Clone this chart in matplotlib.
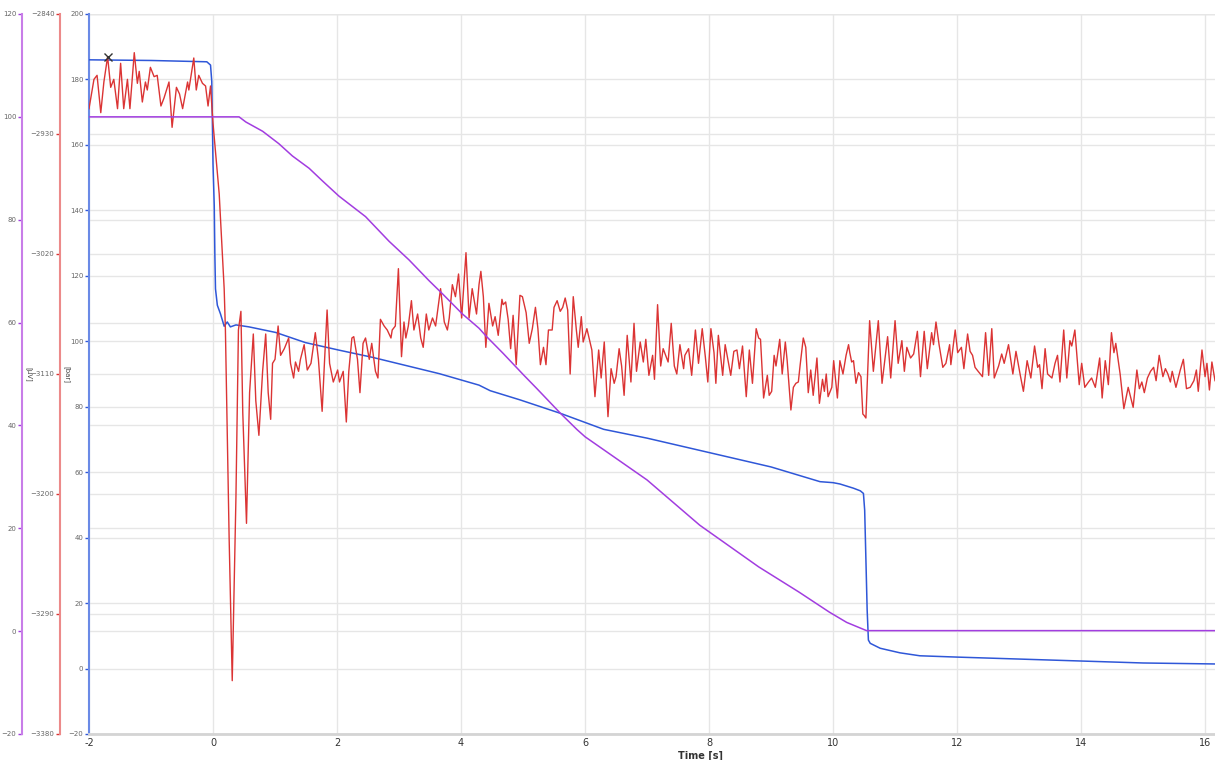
import numpy as np
import matplotlib
matplotlib.use("Agg")
from matplotlib import pyplot as plt

# blue channel (inner axis, 0..200)
blue_t = [-2.00, -1.00, -0.10, -0.04, -0.02, 0.00, 0.02, 0.03, 0.04, 0.07, 0.12, 0.18, 0.23, 0.28,
          0.37, 0.58, 1.01, 1.49, 2.03, 2.57, 3.11, 3.65, 4.29, 4.47, 4.95, 5.60, 6.30, 7.00,
          8.00, 9.00, 9.79, 10.00, 10.11, 10.33, 10.44, 10.49, 10.51, 10.53, 10.55, 10.57,
          10.60, 10.76, 11.08, 11.40, 12.00, 13.00, 14.00, 15.00, 16.16]
blue_v = [186.0, 185.8, 185.4, 184.4, 179.4, 154.0, 141.4, 126.2, 116.0, 111.0, 108.4, 104.6, 105.9, 104.4,
          105.0, 104.4, 102.7, 99.6, 97.3, 95.1, 92.6, 90.1, 86.6, 84.9, 82.1, 78.0, 73.1, 70.4,
          66.0, 61.6, 57.1, 56.8, 56.4, 55.1, 54.3, 53.5, 48.4, 33.2, 17.9, 8.7,
          7.7, 6.2, 4.8, 3.9, 3.5, 2.9, 2.3, 1.7, 1.4]

# purple channel (outer axis, -20..120)
purple_t = [-2.00, 0.42, 0.53, 0.80, 1.06, 1.28, 1.55, 1.76, 2.03, 2.46, 2.84, 3.16, 3.48, 3.70, 4.02,
            4.29, 4.41, 4.68, 5.01, 5.22, 5.60, 5.87, 6.00, 6.50, 7.00, 7.85, 8.80, 9.45, 9.94,
            10.22, 10.38, 10.54, 16.16]
purple_v = [100.0, 100.0, 99.0, 97.2, 94.8, 92.4, 90.0, 87.6, 84.6, 80.6, 75.8, 72.2, 68.2, 65.6, 61.7,
            58.9, 57.3, 54.0, 49.8, 47.2, 42.4, 39.2, 37.8, 33.6, 29.4, 20.6, 12.5, 7.6, 3.7,
            1.7, 0.9, 0.1, 0.1]

# red channel (middle axis, -3380..-2840)
red_t = [-2.00, -1.92, -1.87, -1.81, -1.76, -1.70, -1.65, -1.60, -1.54, -1.49, -1.44, -1.38, -1.34, -1.27,
         -1.22, -1.19, -1.14, -1.09, -1.06, -1.01, -0.95, -0.90, -0.84, -0.79, -0.71, -0.66, -0.59, -0.54,
         -0.49, -0.41, -0.39, -0.31, -0.27, -0.23, -0.17, -0.12, -0.08, -0.04, 0.00, 0.04, 0.10, 0.12,
         0.18, 0.20, 0.26, 0.31, 0.37, 0.41, 0.45, 0.48, 0.54, 0.59, 0.65, 0.69, 0.74, 0.80, 0.85, 0.89,
         0.93, 0.96, 1.00, 1.05, 1.09, 1.15, 1.22, 1.25, 1.30, 1.33, 1.38, 1.41, 1.47, 1.52, 1.58, 1.65,
         1.70, 1.76, 1.80, 1.84, 1.88, 1.94, 2.01, 2.04, 2.10, 2.15, 2.19, 2.24, 2.27, 2.33, 2.37, 2.42,
         2.46, 2.52, 2.56, 2.62, 2.66, 2.70, 2.76, 2.81, 2.87, 2.89, 2.94, 2.99, 3.04, 3.08, 3.11, 3.15,
         3.20, 3.24, 3.30, 3.35, 3.39, 3.44, 3.48, 3.54, 3.59, 3.67, 3.73, 3.78, 3.81, 3.86, 3.91, 3.96,
         4.01, 4.08, 4.13, 4.18, 4.25, 4.29, 4.32, 4.36, 4.40, 4.45, 4.51, 4.55, 4.60, 4.66, 4.68, 4.72,
         4.76, 4.80, 4.84, 4.89, 4.95, 4.99, 5.05, 5.10, 5.15, 5.20, 5.24, 5.28, 5.33, 5.37, 5.41, 5.47,
         5.50, 5.55, 5.60, 5.64, 5.68, 5.72, 5.76, 5.81, 5.86, 5.89, 5.94, 5.97, 6.03, 6.07, 6.11, 6.16,
         6.22, 6.26, 6.31, 6.37, 6.42, 6.47, 6.50, 6.55, 6.59, 6.63, 6.68, 6.74, 6.79, 6.83, 6.89, 6.94,
         6.98, 7.03, 7.09, 7.12, 7.17, 7.22, 7.26, 7.34, 7.39, 7.44, 7.48, 7.53, 7.59, 7.61, 7.67, 7.72,
         7.78, 7.83, 7.89, 7.94, 7.98, 8.03, 8.08, 8.11, 8.15, 8.22, 8.26, 8.31, 8.35, 8.40, 8.45, 8.49,
         8.54, 8.60, 8.65, 8.70, 8.76, 8.80, 8.83, 8.88, 8.94, 8.97, 9.01, 9.05, 9.08, 9.14, 9.18, 9.23,
         9.26, 9.32, 9.36, 9.40, 9.44, 9.47, 9.52, 9.56, 9.60, 9.64, 9.68, 9.74, 9.78, 9.83, 9.86, 9.89,
         9.92, 9.98, 10.01, 10.07, 10.11, 10.16, 10.21, 10.25, 10.27, 10.30, 10.33, 10.37, 10.41, 10.45,
         10.48, 10.50, 10.53, 10.59, 10.65, 10.73, 10.79, 10.88, 10.93, 11.00, 11.05, 11.11, 11.15, 11.19,
         11.25, 11.30, 11.36, 11.41, 11.47, 11.52, 11.59, 11.62, 11.66, 11.71, 11.77, 11.82, 11.88, 11.90,
         11.97, 12.01, 12.07, 12.11, 12.17, 12.21, 12.25, 12.29, 12.34, 12.41, 12.46, 12.51, 12.56, 12.60,
         12.67, 12.72, 12.76, 12.83, 12.90, 12.95, 13.02, 13.07, 13.13, 13.19, 13.25, 13.30, 13.33, 13.37,
         13.42, 13.46, 13.53, 13.58, 13.62, 13.66, 13.72, 13.77, 13.82, 13.85, 13.90, 13.97, 14.01, 14.06,
         14.12, 14.17, 14.23, 14.30, 14.34, 14.39, 14.44, 14.49, 14.53, 14.56, 14.63, 14.69, 14.76, 14.84,
         14.90, 14.94, 14.98, 15.02, 15.07, 15.12, 15.17, 15.21, 15.26, 15.32, 15.36, 15.40, 15.44, 15.47,
         15.53, 15.60, 15.65, 15.70, 15.76, 15.82, 15.86, 15.89, 15.95, 16.00, 16.03, 16.07, 16.11, 16.16]
red_v = [-2911, -2889, -2886, -2914, -2891, -2872, -2895, -2889, -2911, -2877, -2911, -2889, -2911, -2869,
         -2892, -2883, -2906, -2891, -2897, -2880, -2887, -2886, -2909, -2903, -2891, -2925, -2895, -2900,
         -2911, -2891, -2897, -2873, -2897, -2886, -2892, -2894, -2909, -2894, -2922, -2943, -2975, -2993,
         -3046, -3077, -3233, -3340, -3202, -3077, -3063, -3139, -3222, -3124, -3080, -3130, -3156, -3108, -3080, -3124,
         -3144, -3102, -3099, -3074, -3096, -3091, -3083, -3102, -3113, -3101, -3108, -3099, -3088, -3107, -3102, -3079,
         -3099, -3138, -3099, -3062, -3102, -3116, -3107, -3116, -3108, -3146, -3108, -3083, -3082, -3099, -3124, -3087,
         -3083, -3099, -3087, -3108, -3113, -3069, -3074, -3077, -3083, -3077, -3074, -3031, -3097, -3071, -3083, -3074,
         -3055, -3077, -3065, -3083, -3090, -3065, -3077, -3068, -3074, -3046, -3071, -3077, -3068, -3043, -3052, -3035,
         -3068, -3019, -3068, -3046, -3065, -3043, -3033, -3052, -3090, -3057, -3074, -3067, -3081, -3054, -3058, -3056,
         -3069, -3091, -3066, -3103, -3051, -3052, -3064, -3087, -3076, -3060, -3076, -3103, -3090, -3103, -3077, -3077,
         -3060, -3055, -3063, -3060, -3053, -3062, -3110, -3052, -3077, -3090, -3067, -3086, -3076, -3084, -3092, -3127,
         -3092, -3113, -3086, -3142, -3106, -3117, -3112, -3091, -3104, -3126, -3081, -3116, -3072, -3108, -3086, -3101,
         -3084, -3111, -3096, -3114, -3058, -3104, -3091, -3101, -3072, -3104, -3110, -3088, -3106, -3096, -3091, -3111,
         -3077, -3102, -3076, -3097, -3116, -3076, -3094, -3117, -3081, -3111, -3088, -3101, -3111, -3093, -3092, -3106,
         -3089, -3127, -3092, -3117, -3076, -3083, -3084, -3128, -3111, -3126, -3123, -3096, -3104, -3084, -3110, -3086,
         -3100, -3137, -3120, -3117, -3116, -3103, -3083, -3090, -3124, -3107, -3126, -3098, -3132, -3114, -3123, -3110,
         -3127, -3120, -3100, -3128, -3100, -3110, -3096, -3088, -3094, -3101, -3100, -3117, -3109, -3112,
         -3140, -3141, -3143, -3070, -3108, -3070, -3117, -3082, -3113, -3070, -3102, -3085, -3108, -3090,
         -3098, -3095, -3078, -3112, -3078, -3106, -3079, -3088, -3071, -3088, -3105, -3102, -3088, -3103,
         -3077, -3094, -3090, -3106, -3080, -3093, -3096, -3105, -3108, -3112, -3079, -3111, -3076, -3113,
         -3104, -3095, -3102, -3088, -3110, -3093, -3111, -3123, -3100, -3113, -3089, -3105, -3103, -3121,
         -3091, -3110, -3113, -3102, -3096, -3116, -3077, -3113, -3085, -3089, -3077, -3118, -3102, -3120,
         -3116, -3113, -3120, -3098, -3128, -3100, -3118, -3079, -3094, -3087, -3110, -3136, -3120, -3135,
         -3107, -3121, -3116, -3124, -3113, -3108, -3105, -3115, -3096, -3112, -3106, -3110, -3116, -3108,
         -3120, -3107, -3099, -3121, -3120, -3115, -3107, -3123, -3092, -3112, -3102, -3122, -3101, -3115]

cursor_t, cursor_v = -1.70, -2872

x_ticks = list(range(-2, 17, 2))
blue_ticks = list(range(-20, 201, 20))
red_ticks = [-3380, -3290, -3200, -3110, -3020, -2930, -2840]
purple_ticks = list(range(-20, 121, 20))

BLUE, RED, PURPLE = '#2f57d8', '#db3434', '#a23de0'
GRID = '#e6e6e6'

fig = plt.figure(figsize=(12.15, 7.6), dpi=100)
ax = fig.add_axes([89/1215, 26/760, 1126/1215, 720/760])
ax_r = ax.twinx()
ax_p = ax.twinx()

ax.set_xlim(-2, 16.16)
ax.set_ylim(-20, 200)
ax_r.set_ylim(-3380, -2840)
ax_p.set_ylim(-20, 120)

# grid: vertical + horizontal lines of all three scales, drawn in the main axes
for xv in x_ticks:
    ax.axvline(xv, color=GRID, lw=1, zorder=0)
for bv in blue_ticks:
    ax.axhline(bv, color=GRID, lw=1, zorder=0)
for rv in red_ticks:
    ax.axhline(-20 + (rv + 3380) / 540 * 220, color=GRID, lw=1, zorder=0)
for pv in purple_ticks:
    ax.axhline(-20 + (pv + 20) / 140 * 220, color=GRID, lw=1, zorder=0)

ax.plot(blue_t, blue_v, color=BLUE, lw=1.1, zorder=3)
ax_r.plot(red_t, red_v, color=RED, lw=1.0, zorder=3)
ax_r.plot(cursor_t, cursor_v, 'x', color='#333333', ms=6, mew=1.0, zorder=4)
ax_p.plot(purple_t, purple_v, color=PURPLE, lw=1.1, zorder=3)

for a in (ax, ax_r, ax_p):
    a.spines['top'].set_visible(False)
    a.spines['right'].set_visible(False)
for a in (ax_r, ax_p):
    a.spines['bottom'].set_visible(False)
    a.yaxis.set_ticks_position('left')
    a.spines['left'].set_visible(True)

ax.spines['bottom'].set_color('#d4d4d4')
ax.spines['bottom'].set_linewidth(2)
ax.spines['left'].set_color('#6a8ae6')
ax.spines['left'].set_linewidth(1.5)
ax_r.spines['left'].set_position(('axes', -29/1126))
ax_r.spines['left'].set_color('#ec8a8a')
ax_r.spines['left'].set_linewidth(1.5)
ax_p.spines['left'].set_position(('axes', -67/1126))
ax_p.spines['left'].set_color('#c87de8')
ax_p.spines['left'].set_linewidth(1.5)

ax.set_xticks(x_ticks)
ax.set_xticklabels([str(v) for v in x_ticks])
ax.tick_params(axis='x', length=0, labelsize=7, labelcolor='#333333', pad=3)
ax.set_yticks(blue_ticks)
ax.tick_params(axis='y', length=3, width=1, color=BLUE, labelsize=5, labelcolor='#666666', pad=1)
ax_r.set_yticks(red_ticks)
ax_r.tick_params(axis='y', length=3, width=1, color=RED, labelsize=5, labelcolor='#666666', pad=1)
ax_p.set_yticks(purple_ticks)
ax_p.tick_params(axis='y', length=3, width=1, color=PURPLE, labelsize=5, labelcolor='#666666', pad=1)

fig.text(700/1215, 1 - 756/760, 'Time [s]', fontsize=7, fontweight='bold', color='#333333',
         ha='center', va='center')
fig.text(29/1215, 1 - 374/760, '[µV]', rotation=270, fontsize=5, color='#444444', ha='center', va='center')
fig.text(67/1215, 1 - 374/760, '[bar]', rotation=270, fontsize=5, color='#444444', ha='center', va='center')

fig.savefig('out.png', dpi=100)
